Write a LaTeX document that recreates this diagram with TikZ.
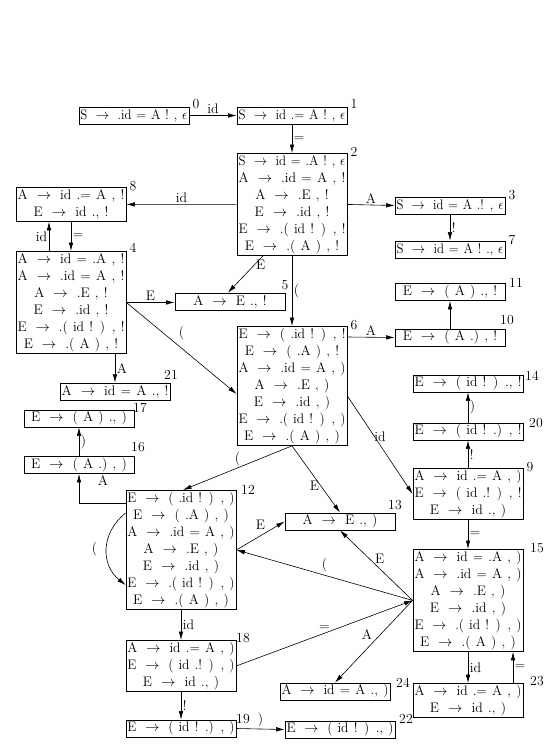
\documentclass[tikz,border=0pt]{standalone}
\usepackage{graphicx}
\usetikzlibrary{arrows.meta,calc}
\newcommand\Ar{\hspace{0.65em}$\rightarrow$\hspace{0.65em}}
\newcommand\ep{$\epsilon$}
\newcommand\ms{\rule[-3.4pt]{0pt}{13.8pt}}
\newsavebox\lnbox
\newcommand\Ln[1]{\sbox\lnbox{\spaceskip=0.38em\relax\ms #1}%
  \ifdim\wd\lnbox>107pt\relax\makebox[108pt]{\resizebox{107pt}{\height}{\usebox\lnbox}}%
  \else\makebox[108pt]{\usebox\lnbox}\fi}
\newcommand\myfont{\fontsize{13.8}{17}\selectfont}
\begin{document}
\begin{tikzpicture}[x=1pt,y=-1pt,
 font=\myfont,
 st/.style={draw, line width=0.8pt, minimum width=110pt, align=center, inner xsep=1pt, inner ysep=1.6pt},
 num/.style={inner sep=0pt},
 lab/.style={inner sep=1.5pt},
 arr/.style={-{Latex[length=8.5pt,width=4.5pt]}, line width=0.6pt}
]
\useasboundingbox (0,0) rectangle (551,755);

% states
\node[st] (s0) at (134,115.5) {\Ln{S\Ar{}.id = A ! , \ep}};
\node[st] (s1) at (292,115.5) {\Ln{S\Ar{}id .= A ! , \ep}};
\node[st, anchor=north] (s2) at (292,153) {\Ln{S\Ar{}id = .A ! , \ep}\\ \Ln{A\Ar{}.id = A , !}\\ \Ln{A\Ar{}.E , !}\\ \Ln{E\Ar{}.id , !}\\ \Ln{E\Ar{}.( id ! ) , !}\\ \Ln{E\Ar{}.( A ) , !}};
\node[st] (s3) at (450,205.5) {\Ln{S\Ar{}id = A .! , \ep}};
\node[st] (s7) at (450,249.5) {\Ln{S\Ar{}id = A ! ., \ep}};
\node[st, anchor=north] (s8) at (71,187) {\Ln{A\Ar{}id .= A , !}\\ \Ln{E\Ar{}id ., !}};
\node[st, anchor=north] (s4) at (71,251) {\Ln{A\Ar{}id = .A , !}\\ \Ln{A\Ar{}.id = A , !}\\ \Ln{A\Ar{}.E , !}\\ \Ln{E\Ar{}.id , !}\\ \Ln{E\Ar{}.( id ! ) , !}\\ \Ln{E\Ar{}.( A ) , !}};
\node[st] (s5) at (230,301.5) {\Ln{A\Ar{}E ., !}};
\node[st, anchor=north] (s6) at (292,326) {\Ln{E\Ar{}( .id ! ) , !}\\ \Ln{E\Ar{}( .A ) , !}\\ \Ln{A\Ar{}.id = A , )}\\ \Ln{A\Ar{}.E , )}\\ \Ln{E\Ar{}.id , )}\\ \Ln{E\Ar{}.( id ! ) , )}\\ \Ln{E\Ar{}.( A ) , )}};
\node[st] (s10) at (450,337.5) {\Ln{E\Ar{}( A .) , !}};
\node[st] (s11) at (450,292) {\Ln{E\Ar{}( A ) ., !}};
\node[st] (s21) at (115,391.5) {\Ln{A\Ar{}id = A ., !}};
\node[st] (s17) at (79,418.5) {\Ln{E\Ar{}( A ) ., )}};
\node[st] (s16) at (79,465) {\Ln{E\Ar{}( A .) , )}};
\node[st] (s14) at (468,383.5) {\Ln{E\Ar{}( id ! ) ., !}};
\node[st] (s20) at (468,431.5) {\Ln{E\Ar{}( id ! .) , !}};
\node[st, anchor=north] (s9) at (468,468) {\Ln{A\Ar{}id .= A , )}\\ \Ln{E\Ar{}( id .! ) , !}\\ \Ln{E\Ar{}id ., )}};
\node[st, anchor=north] (s12) at (181,490) {\Ln{E\Ar{}( .id ! ) , )}\\ \Ln{E\Ar{}( .A ) , )}\\ \Ln{A\Ar{}.id = A , )}\\ \Ln{A\Ar{}.E , )}\\ \Ln{E\Ar{}.id , )}\\ \Ln{E\Ar{}.( id ! ) , )}\\ \Ln{E\Ar{}.( A ) , )}};
\node[st] (s13) at (340,521.5) {\Ln{A\Ar{}E ., )}};
\node[st, anchor=north] (s15) at (468,549) {\Ln{A\Ar{}id = .A , )}\\ \Ln{A\Ar{}.id = A , )}\\ \Ln{A\Ar{}.E , )}\\ \Ln{E\Ar{}.id , )}\\ \Ln{E\Ar{}.( id ! ) , )}\\ \Ln{E\Ar{}.( A ) , )}};
\node[st, anchor=north] (s18) at (181,640) {\Ln{A\Ar{}id .= A , )}\\ \Ln{E\Ar{}( id .! ) , )}\\ \Ln{E\Ar{}id ., )}};
\node[st] (s19) at (181,728.5) {\Ln{E\Ar{}( id ! .) , )}};
\node[st] (s22) at (340,729.5) {\Ln{E\Ar{}( id ! ) ., )}};
\node[st] (s24) at (335,691.5) {\Ln{A\Ar{}id = A ., )}};
\node[st, anchor=north] (s23) at (468,683) {\Ln{A\Ar{}id .= A , )}\\ \Ln{E\Ar{}id ., )}};

% state numbers
\foreach \n/\x/\y in {0/196/104, 1/354/104, 2/354/152, 3/512/195, 7/512/240, 8/133/186, 4/133/248, 5/285/285, 6/354/325, 10/507/320, 11/516/283, 21/171/375, 17/140/408, 16/138/447, 14/532/376, 20/536/423, 9/530/467, 12/248/490, 13/395/505, 15/537/548, 18/243/638, 19/243/719, 22/406/719, 24/403/683, 23/537/681}
  \node[num] (n\n) at (\x,\y) {\n};

% edges
\draw[arr] (s0.east) -- (s1.west) node[midway,above,lab]{id};
\draw[arr] (s1.south) -- (s2.north) node[midway,right,lab]{=};
\draw[arr] (s2.west) -- (s8.east) node[midway,above,lab]{id};
\draw[arr] (s2.east) -- (s3.west) node[midway,above,lab]{A};
\draw[arr] (s3.south) -- (s7.north) node[midway,right,lab]{!};
\draw[arr] (s8.south) -- (s4.north) node[midway,right,lab]{=};
\draw[arr] ([xshift=-22pt]s4.north) -- ([xshift=-22pt]s8.south) node[midway,left,lab]{id};
\draw[arr] (s2.south) -- (s6.north) node[midway,right,lab]{(};
\draw[arr] ([xshift=-29pt]s2.south) -- ([xshift=-2pt]s5.north) node[pos=0.25,right,lab]{E};
\draw[arr] (s4.east) -- (s4.east -| s5.west) node[midway,above,lab]{E};
\draw[arr] (s4.east) -- ([yshift=-8pt]s6.west) node[midway,above=6pt,lab]{(};
\draw[arr] ([yshift=-11pt]s6.north east) -- (s10.west) node[midway,above,lab]{A};
\draw[arr] (s10.north) -- (s11.south);
\draw[arr] (s21.north |- s4.south) -- (s21.north) node[midway,right,lab]{A};
\draw[arr] (s16.north) -- (s17.south) node[midway,right,lab]{)};
\coordinate (c12) at ([yshift=-13pt]s12.north west);
\draw[arr] (c12) -| (s16.south) node[pos=0.88,right=17pt,lab]{A};
\draw[arr] ([yshift=-23pt]s12.north west) .. controls +(-25,20) and +(-25,-20) .. ([yshift=-95pt]s12.north west) node[pos=0.5,left=8pt,lab]{(};
\draw[arr] (s6.south) -- ([xshift=2pt]s12.north) node[midway,above,lab]{(};
\draw[arr] (s6.south) -- (s13.north) node[pos=0.6,left,lab]{E};
\draw[arr] ([yshift=-10pt]s6.east) -- (s9.west) node[midway,above=2pt,lab]{id};
\draw[arr] (s9.north) -- (s20.south) node[midway,right,lab]{!};
\draw[arr] (s20.north) -- (s14.south) node[midway,right,lab]{)};
\draw[arr] (s9.south) -- (s15.north) node[midway,right,lab]{=};
\draw[arr] (s12.east) -- (s13.west) node[midway,above=4pt,lab]{E};
\draw[arr] (s15.west) -- (s12.east) node[midway,above=1pt,lab]{(};
\draw[arr] (s15.west) -- (s13.south) node[midway,above right,xshift=-3pt,lab]{E};
\draw[arr] (s18.east) -- (s15.west) node[midway,above=1pt,lab]{=};
\draw[arr] (s15.west) -- (s24.north) node[midway,above left,lab]{A};
\draw[arr] (s12.south) -- (s18.north) node[midway,right,lab]{id};
\draw[arr] (s18.south) -- (s19.north) node[midway,right,lab]{!};
\draw[arr] (s19.east) -- (s22.west) node[midway,above,lab]{)};
\draw[arr] (s15.south) -- (s23.north) node[midway,right,lab]{id};
\draw[arr] ([xshift=45pt]s23.north) -- ([xshift=45pt]s15.south) node[midway,right,lab]{=};
\end{tikzpicture}
\end{document}
